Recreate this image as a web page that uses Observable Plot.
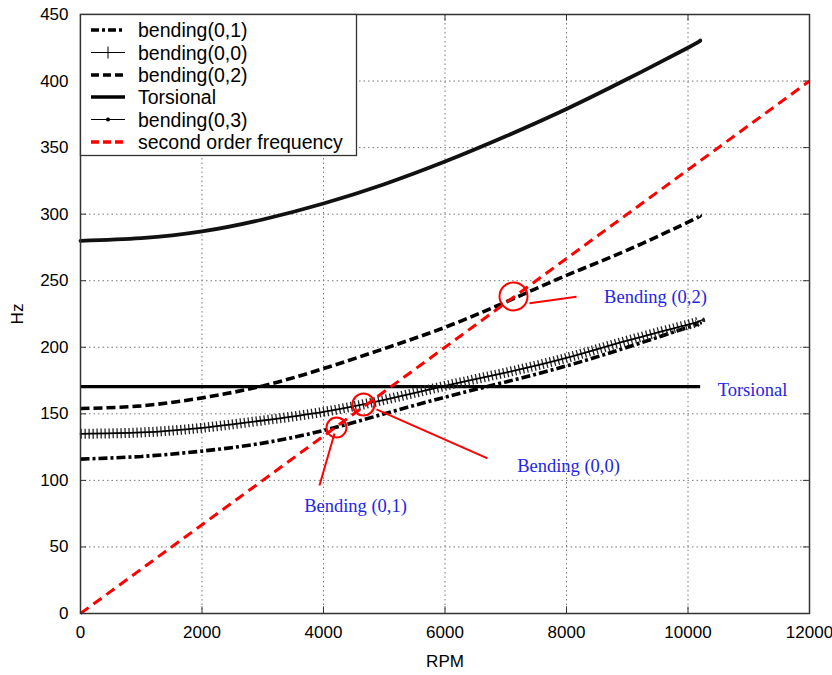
<!DOCTYPE html>
<html>
<head>
<meta charset="utf-8">
<script src="https://cdn.jsdelivr.net/npm/d3@7"></script>
<script src="https://cdn.jsdelivr.net/npm/@observablehq/plot@0.6"></script>
<style>
  html, body { margin: 0; padding: 0; background: #fff; }
  #chart { width: 832px; height: 675px; }
</style>
</head>
<body>
<div id="chart"></div>
<script>
// ---- data ----
const rpm        = [0, 1000, 2000, 3000, 4000, 5000, 6000, 7000, 8000, 9000, 10000, 10200];
const bending01  = [116, 118, 122, 128, 137.5, 150, 162.5, 174, 186, 200, 215, 218];
const bending00  = [135, 136, 139.5, 145, 151.5, 160.5, 171, 181, 192, 205, 217, 220];
const bending02  = [154, 156, 162, 171, 184, 199, 215, 234, 254, 273, 294, 299];
const bending03  = [280, 282, 287, 296, 308, 322.5, 339.5, 358.5, 379, 401.5, 425, 430.5];
const torsionalRpm = [0, 10200];
const torsionalHz  = [170.5, 170.5];
const orderRpm   = [0, 12000];
const orderHz    = [0, 400];

const xTicks = [0, 2000, 4000, 6000, 8000, 10000, 12000];
const yTicks = [0, 50, 100, 150, 200, 250, 300, 350, 400, 450];

const legendNames = ["bending(0,1)", "bending(0,0)", "bending(0,2)", "Torsional", "bending(0,3)", "second order frequency"];

// annotations (labels and the points they mark)
const annLabels  = ["Bending (0,2)", "Torsional", "Bending (0,0)", "Bending (0,1)"];
const annLabelRpm = [9465, 11062, 8033, 4527];
const annLabelHz  = [237.4, 167.5, 110.4, 80.4];
const circleRpm  = [7128, 4658, 4214];
const circleHz   = [238.2, 157, 139.7];
const leaderFromRpm = [7391, 4872, 4181];
const leaderFromHz  = [233, 153.3, 135.2];
const leaderToRpm   = [8165, 6700, 3934];
const leaderToHz    = [238, 116.5, 96.2];

// ---- build tables ----
const series = (xs, ys) => xs.map((x, i) => ({rpm: x, hz: ys[i]}));
const s01 = series(rpm, bending01);
const s00 = series(rpm, bending00);
const s02 = series(rpm, bending02);
const s03 = series(rpm, bending03);
const sT  = series(torsionalRpm, torsionalHz);
const sO  = series(orderRpm, orderHz);
const labels = annLabels.map((t, i) => ({t, rpm: annLabelRpm[i], hz: annLabelHz[i]}));
const circles = circleRpm.map((r, i) => ({rpm: r, hz: circleHz[i]}));
const leaders = leaderFromRpm.map((r, i) => ({x1: r, y1: leaderFromHz[i], x2: leaderToRpm[i], y2: leaderToHz[i]}));
const circleRadii = [14, 11, 10];

const gridStyle = {stroke: "#777", strokeOpacity: 1, strokeWidth: 1, strokeDasharray: "1.5,3"};
const butt = {strokeLinecap: "butt", strokeLinejoin: "miter"};

const chart = Plot.plot({
  width: 832,
  height: 675,
  marginLeft: 80,
  marginRight: 23,
  marginTop: 14,
  marginBottom: 62,
  style: {fontFamily: "'Liberation Sans', Arial, sans-serif", fontSize: "17px", color: "#000", background: "#fff"},
  x: {domain: [0, 12000]},
  y: {domain: [0, 450]},
  marks: [
    Plot.gridX(xTicks.slice(1, -1), gridStyle),
    Plot.gridY(yTicks.slice(1, -1), gridStyle),
    // inward tick marks (gnuplot style)
    Plot.ruleY(yTicks, {x1: 0, x2: 100, stroke: "#333"}),
    Plot.ruleY(yTicks, {x1: 11900, x2: 12000, stroke: "#333"}),
    Plot.ruleX(xTicks, {y1: 0, y2: 5, stroke: "#333"}),
    Plot.ruleX(xTicks, {y1: 445, y2: 450, stroke: "#333"}),
    Plot.axisX(xTicks, {tickSize: 0, tickPadding: 12, tickFormat: "d", label: "RPM", labelAnchor: "center", labelArrow: "none", labelOffset: 53, fontSize: 17}),
    Plot.axisY(yTicks, {tickSize: 0, tickPadding: 12, label: "Hz", labelAnchor: "center", labelArrow: "none", labelOffset: 70, fontSize: 17}),
    // series
    Plot.line(s03, {x: "rpm", y: "hz", curve: "natural", stroke: "#111", strokeWidth: 3.8}),
    Plot.line(s02, {x: "rpm", y: "hz", curve: "natural", stroke: "#000", strokeWidth: 3.6, strokeDasharray: "9,4", ...butt}),
    Plot.line(sT,  {x: "rpm", y: "hz", stroke: "#000", strokeWidth: 3.2, ...butt}),
    Plot.line(s01, {x: "rpm", y: "hz", curve: "natural", stroke: "#000", strokeWidth: 3.6, strokeDasharray: "9,3,3,3", ...butt}),
    Plot.line(s00, {x: "rpm", y: "hz", curve: "natural", stroke: "#222", strokeWidth: 10, strokeDasharray: "1.3,2.7", ...butt}),
    Plot.line(s00, {x: "rpm", y: "hz", curve: "natural", stroke: "#000", strokeWidth: 1.8}),
    Plot.line(sO,  {x: "rpm", y: "hz", stroke: "#ff0000", strokeWidth: 3, strokeDasharray: "10,6", ...butt}),
    // annotations
    ...circles.map((c, i) => Plot.dot([c], {x: "rpm", y: "hz", r: circleRadii[i], stroke: "#ff0000", strokeWidth: 2, fill: "none"})),
    Plot.link(leaders, {x1: "x1", y1: "y1", x2: "x2", y2: "y2", stroke: "#ff0000", strokeWidth: 2}),
    Plot.text(labels, {x: "rpm", y: "hz", text: "t", fill: "#2424e6", fontFamily: "'Liberation Serif', 'Times New Roman', serif", fontSize: 18.5}),
    Plot.frame({stroke: "#333", strokeWidth: 1.5})
  ]
});

document.getElementById("chart").appendChild(chart);

// ---- legend box (top-left, inside the frame) ----
const svg = d3.select(chart);
const lg = svg.append("g").attr("class", "legend").attr("text-anchor", "start");
lg.append("rect").attr("x", 80.5).attr("y", 14.5).attr("width", 276).attr("height", 141)
  .attr("fill", "#fff").attr("stroke", "#333").attr("stroke-width", 1.3);
const rowY = [30, 52.5, 75, 97, 119.5, 142];
const sampleStyles = [
  {stroke: "#000", w: 3.5, dash: "8,3,3,3"},
  {stroke: "#000", w: 1, dash: null, mark: "plus"},
  {stroke: "#000", w: 3.5, dash: "8,4"},
  {stroke: "#000", w: 3.5, dash: null},
  {stroke: "#000", w: 1, dash: null, mark: "dot"},
  {stroke: "#ff0000", w: 3.5, dash: "8,4"}
];
legendNames.forEach((name, i) => {
  const y = rowY[i], st = sampleStyles[i];
  const ln = lg.append("line").attr("x1", 91).attr("x2", 125).attr("y1", y).attr("y2", y)
    .attr("stroke", st.stroke).attr("stroke-width", st.w);
  if (st.dash) ln.attr("stroke-dasharray", st.dash);
  if (st.mark === "plus") {
    lg.append("line").attr("x1", 108).attr("x2", 108).attr("y1", y - 6).attr("y2", y + 6).attr("stroke", "#000").attr("stroke-width", 1);
  }
  if (st.mark === "dot") {
    lg.append("circle").attr("cx", 108).attr("cy", y).attr("r", 2).attr("fill", "#000");
  }
  lg.append("text").attr("x", 138).attr("y", y).attr("dy", "0.36em").attr("text-anchor", "start")
    .attr("font-family", "'Liberation Sans', Arial, sans-serif").attr("font-size", 19.5)
    .attr("fill", "#000").text(name);
});
</script>
</body>
</html>
